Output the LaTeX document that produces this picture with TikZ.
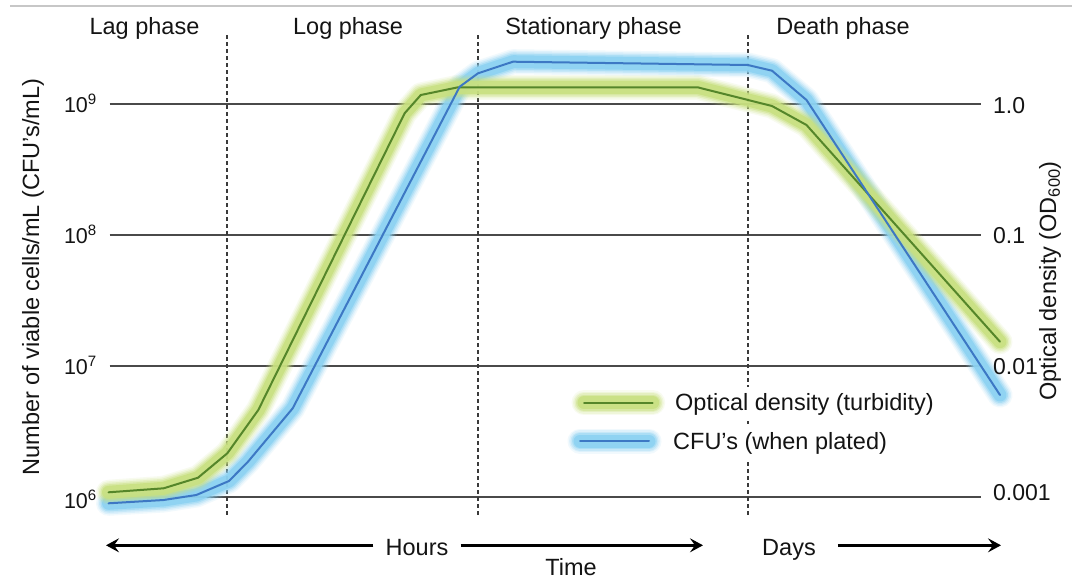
\documentclass[tikz,border=0pt]{standalone}
\usepackage{fontspec}
\setmainfont{Liberation Sans}
\usetikzlibrary{arrows.meta}

\definecolor{gridgray}{HTML}{4A4A4A}
\definecolor{dashgray}{HTML}{3A3A3A}
\definecolor{odcore}{HTML}{55862A}
\definecolor{odglow}{HTML}{C8E080}
\definecolor{cfucore}{HTML}{3D78C4}
\definecolor{cfuglow}{HTML}{8CD2F2}
\definecolor{inkcol}{HTML}{141414}

\tikzset{
  gridline/.style={draw=gridgray, line width=2pt},
  phaseline/.style={draw=dashgray, line width=1.6pt, dash pattern=on 4pt off 3pt},
  phaselabel/.style={font=\fontsize{23.5}{26}\selectfont, text=inkcol, anchor=base, inner sep=0pt},
  ticklabel/.style={font=\fontsize{21.5}{24}\selectfont, text=inkcol, inner sep=0pt},
  odlabel/.style={font=\fontsize{23}{26}\selectfont, text=inkcol, inner sep=0pt, anchor=base west},
  axislabel/.style={font=\fontsize{23.5}{26}\selectfont, text=inkcol, inner sep=0pt, rotate=90},
  legendtext/.style={font=\fontsize{23.5}{26}\selectfont, text=inkcol, fill=white,
    inner xsep=0pt, inner ysep=6pt, anchor=base west},
  timearrow/.style={draw=black, line width=2.6pt, -{Stealth[length=13pt,width=14pt,inset=5pt]}},
  coreline/.style={line width=2pt, line join=round, line cap=round},
}

% soft halo: several translucent strokes of shrinking width
\newcommand{\halo}[2]{%
  \foreach \w/\o in {25/0.12,22/0.18,19/0.28,16/0.45,13/0.85}{%
    \draw[draw=#1, line width=\w pt, opacity=\o, line join=round, line cap=round] #2;
  }%
}

\begin{document}
\begin{tikzpicture}[x=1pt,y=-1pt]
\useasboundingbox (0,0) rectangle (1072,579);
\fill[white] (0,0) rectangle (1072,579);

% thin rule along the top
\draw[draw=black!22, line width=1.4pt] (10,6) -- (1072,6);

% horizontal grid (one line per decade)
\foreach \yy in {104.3,235,366,497}{
  \draw[gridline] (109.5,\yy) -- (981,\yy);
}

% phase boundaries
\foreach \xx in {227,478,748}{
  \draw[phaseline] (\xx,35) -- (\xx,517);
}

% growth curves
\def\odpath{(108.5,492.3) -- (163.6,488.3) -- (198,477.7) -- (227.3,453.3) -- (258.3,410) -- (404.6,113.3) -- (420.8,95) -- (458,87.3) -- (697.6,87.3) -- (772,106) -- (806.5,125) -- (1000,341.7)}
\def\cfupath{(108.5,503.3) -- (163.6,500) -- (196.3,495) -- (229,481) -- (248,461.7) -- (292.7,408.3) -- (459.7,86.7) -- (478,73.3) -- (513,61.7) -- (747.8,65) -- (772,70.7) -- (806.5,100) -- (1000,395)}

\halo{cfuglow}{\cfupath}
\halo{odglow}{\odpath}
\draw[coreline, draw=odcore] \odpath;
\draw[coreline, draw=cfucore] \cfupath;

% phase titles
\node[phaselabel] (lag) at (144.5,34) {Lag phase};
\node[phaselabel] (log) at (348,34) {Log phase};
\node[phaselabel] (stat) at (593.5,34) {Stationary phase};
\node[phaselabel] (death) at (843,34) {Death phase};

% left scale (viable cells)
\node[ticklabel, anchor=base east] (c9) at (97,112.3) {10\textsuperscript{9}};
\node[ticklabel, anchor=base east] (c8) at (97,243) {10\textsuperscript{8}};
\node[ticklabel, anchor=base east] (c7) at (97,374) {10\textsuperscript{7}};
\node[ticklabel, anchor=base east] (c6) at (97,508) {10\textsuperscript{6}};

% right scale (optical density)
\node[odlabel] (o1) at (993,113) {1.0};
\node[odlabel] (o2) at (993,243.5) {0.1};
\node[odlabel] (o3) at (993,374) {0.01};
\node[odlabel] (o4) at (993,500) {0.001};

% axis titles
\node[axislabel] (ylab) at (33,277) {Number of viable cells/mL (CFU’s/mL)};
\node[axislabel] (odlab) at (1050,281) {Optical density (OD\textsubscript{600})};

% legend
\coordinate (lg1a) at (584,402.7);
\coordinate (lg1b) at (652.7,402.7);
\coordinate (lg2a) at (580,441);
\coordinate (lg2b) at (649,441);
\halo{odglow}{(lg1a) -- (lg1b)}
\halo{cfuglow}{(lg2a) -- (lg2b)}
\draw[coreline, draw=odcore] (lg1a) -- (lg1b);
\draw[coreline, draw=cfucore] (lg2a) -- (lg2b);
\node[legendtext] (lgod) at (675,410.3) {Optical density (turbidity)};
\node[legendtext] (lgcfu) at (673,449) {CFU’s (when plated)};

% time axis
\node[phaselabel] (hours) at (417,555) {Hours};
\node[phaselabel] (days) at (789,555) {Days};
\node[phaselabel] (time) at (571,575) {Time};
\coordinate (hl) at (106,545.3);
\coordinate (hr) at (703,545.3);
\coordinate (dr) at (1001,545.3);
\draw[timearrow] (hours.west |- hl) ++(-12,0) -- (hl);
\draw[timearrow] (hours.east |- hr) ++(12,0) -- (hr);
\draw[timearrow] (days.east |- dr) ++(22,0) -- (dr);
\end{tikzpicture}
\end{document}
